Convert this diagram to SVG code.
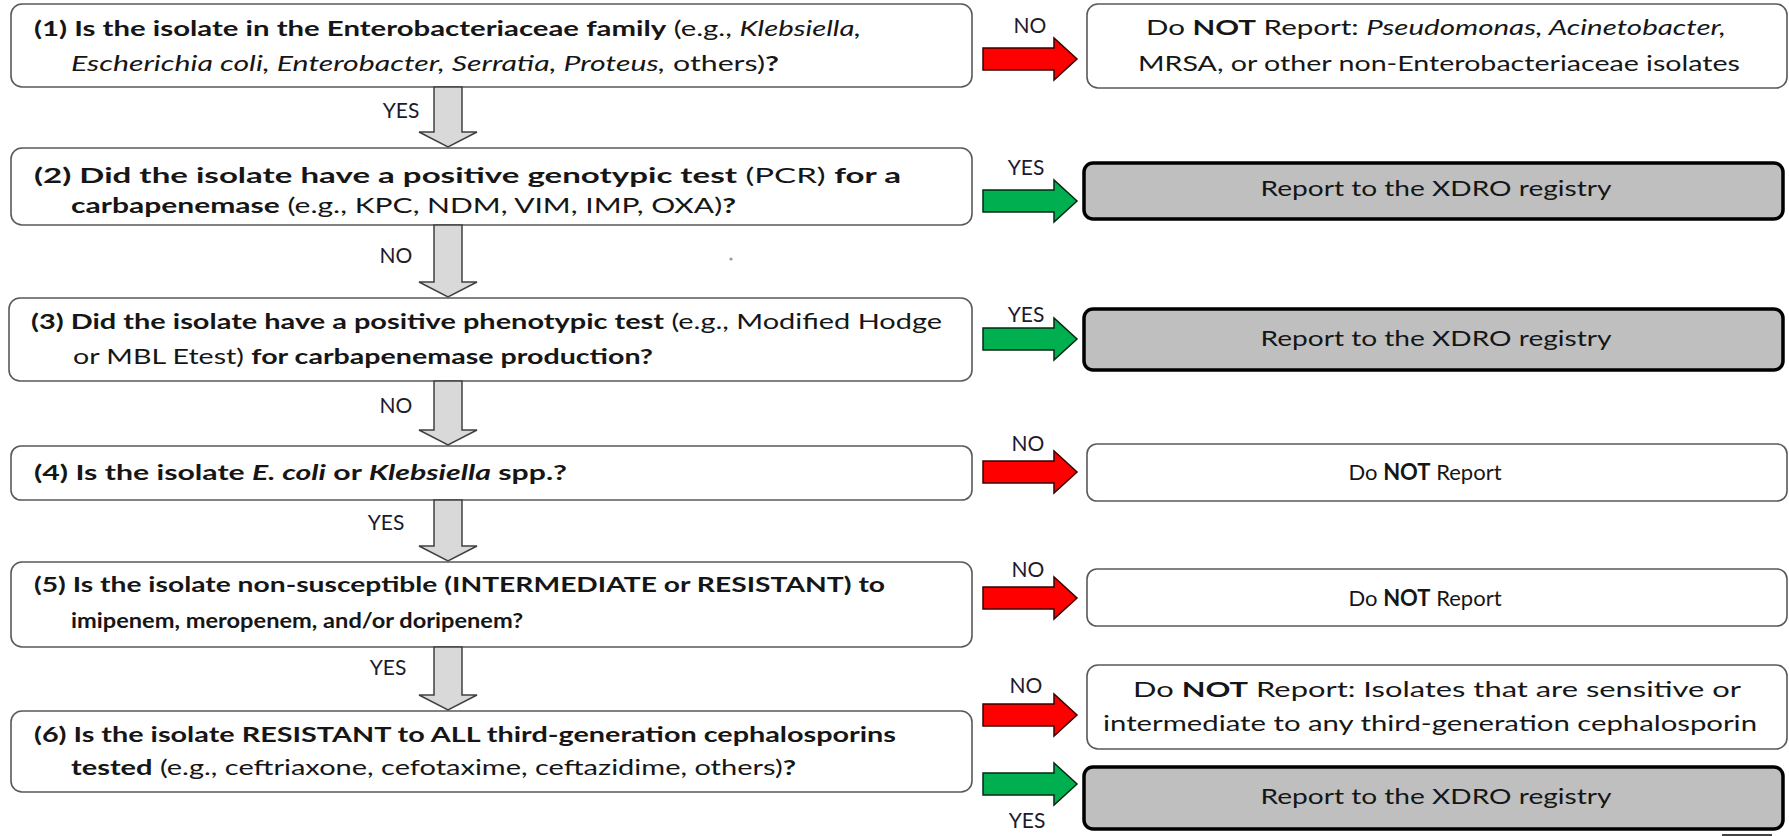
<svg xmlns="http://www.w3.org/2000/svg" width="1789" height="836" viewBox="0 0 1789 836">
<style>
text{font-family:Lato,"Liberation Sans",sans-serif;fill:#161616;font-size:21px}
.b{font-weight:bold}
.i{font-style:italic}
.bi{font-weight:bold;font-style:italic}
.q{fill:#fff;stroke:#595959;stroke-width:1.6}
.g{fill:#bfbfbf;stroke:#000;stroke-width:3.5}
.lab{font-size:21px;fill:#1b1b2e}
.c{text-anchor:middle}
.down{fill:#d9d9d9;stroke:#404040;stroke-width:1.5}
.red{fill:#ff0000;stroke:#3a0000;stroke-width:1.5}
.grn{fill:#00b050;stroke:#002a10;stroke-width:1.5}
</style>

<g id="q1">
<rect class="q" x="11" y="4" width="961" height="83" rx="11"/>
<text x="34" y="36" textLength="827" lengthAdjust="spacingAndGlyphs"><tspan class="b">(1) Is the isolate in the Enterobacteriaceae family</tspan> (e.g., <tspan class="i">Klebsiella,</tspan></text>
<text x="71" y="71" textLength="708" lengthAdjust="spacingAndGlyphs"><tspan class="i">Escherichia coli, Enterobacter, Serratia, Proteus,</tspan> others)<tspan class="b">?</tspan></text>
</g>
<g id="q2">
<rect class="q" x="11" y="148" width="961" height="77" rx="11"/>
<text x="34" y="183" textLength="867" lengthAdjust="spacingAndGlyphs"><tspan class="b">(2) Did the isolate have a positive genotypic test</tspan> (PCR) <tspan class="b">for a</tspan></text>
<text x="71" y="213" textLength="665" lengthAdjust="spacingAndGlyphs"><tspan class="b">carbapenemase</tspan> (e.g., KPC, NDM, VIM, IMP, OXA)<tspan class="b">?</tspan></text>
</g>
<g id="q3">
<rect class="q" x="9" y="298" width="963" height="83" rx="11"/>
<text x="31" y="329" textLength="911" lengthAdjust="spacingAndGlyphs"><tspan class="b">(3) Did the isolate have a positive phenotypic test</tspan> (e.g., Modified Hodge</text>
<text x="73" y="364" textLength="580" lengthAdjust="spacingAndGlyphs">or MBL Etest) <tspan class="b">for carbapenemase production?</tspan></text>
</g>
<g id="q4">
<rect class="q" x="11" y="446" width="961" height="54" rx="10"/>
<text x="34" y="480" textLength="533" lengthAdjust="spacingAndGlyphs" class="b">(4) Is the isolate <tspan class="bi">E. coli</tspan> or <tspan class="bi">Klebsiella</tspan> spp.?</text>
</g>
<g id="q5">
<rect class="q" x="11" y="562" width="961" height="85" rx="11"/>
<text x="34" y="592" textLength="851" lengthAdjust="spacingAndGlyphs" class="b">(5) Is the isolate non-susceptible (INTERMEDIATE or RESISTANT) to</text>
<text x="71" y="628" textLength="452" lengthAdjust="spacingAndGlyphs" class="b">imipenem, meropenem, and/or doripenem?</text>
</g>
<g id="q6">
<rect class="q" x="11" y="711" width="961" height="81" rx="11"/>
<text x="34" y="742" textLength="862" lengthAdjust="spacingAndGlyphs" class="b">(6) Is the isolate RESISTANT to ALL third-generation cephalosporins</text>
<text x="71" y="775" textLength="725" lengthAdjust="spacingAndGlyphs"><tspan class="b">tested</tspan> (e.g., ceftriaxone, cefotaxime, ceftazidime, others)<tspan class="b">?</tspan></text>
</g>

<g id="r1">
<rect class="q" x="1087" y="4" width="700" height="84" rx="11"/>
<text class="c" x="1436" y="35" textLength="580" lengthAdjust="spacingAndGlyphs">Do <tspan class="b">NOT</tspan> Report: <tspan class="i">Pseudomonas, Acinetobacter,</tspan></text>
<text class="c" x="1439" y="71" textLength="602" lengthAdjust="spacingAndGlyphs">MRSA, or other non-Enterobacteriaceae isolates</text>
</g>
<g id="r2">
<rect class="g" x="1084" y="163" width="699" height="56" rx="9"/>
<text class="c" x="1436" y="196" textLength="351" lengthAdjust="spacingAndGlyphs">Report to the XDRO registry</text>
</g>
<g id="r3">
<rect class="g" x="1084" y="309" width="699" height="61" rx="9"/>
<text class="c" x="1436" y="346" textLength="351" lengthAdjust="spacingAndGlyphs">Report to the XDRO registry</text>
</g>
<g id="r4">
<rect class="q" x="1087" y="444" width="700" height="57" rx="10"/>
<text class="c" x="1425" y="480" style="font-size:22px">Do <tspan class="b">NOT</tspan> Report</text>
</g>
<g id="r5">
<rect class="q" x="1087" y="569" width="700" height="57" rx="10"/>
<text class="c" x="1425" y="606" style="font-size:22px">Do <tspan class="b">NOT</tspan> Report</text>
</g>
<g id="r6">
<rect class="q" x="1087" y="665" width="700" height="84" rx="11"/>
<text class="c" x="1437" y="697" textLength="608" lengthAdjust="spacingAndGlyphs">Do <tspan class="b">NOT</tspan> Report: Isolates that are sensitive or</text>
<text class="c" x="1430" y="731" textLength="654" lengthAdjust="spacingAndGlyphs">intermediate to any third-generation cephalosporin</text>
</g>
<g id="r7">
<rect class="g" x="1084" y="767" width="699" height="62" rx="9"/>
<text class="c" x="1436" y="804" textLength="351" lengthAdjust="spacingAndGlyphs">Report to the XDRO registry</text>
</g>

<g id="connectors">
<polygon class="down" points="434,87 462,87 462,132 477,132 448,147 419,132 434,132"/>
<polygon class="down" points="434,225 462,225 462,282 477,282 448,297 419,282 434,282"/>
<polygon class="down" points="434,381 462,381 462,430 477,430 448,445 419,430 434,430"/>
<polygon class="down" points="434,500 462,500 462,546 477,546 448,561 419,546 434,546"/>
<polygon class="down" points="434,647 462,647 462,695 477,695 448,710 419,695 434,695"/>
<text class="lab c" x="401" y="118">YES</text>
<text class="lab c" x="396" y="263">NO</text>
<text class="lab c" x="396" y="413">NO</text>
<text class="lab c" x="386" y="530">YES</text>
<text class="lab c" x="388" y="675">YES</text>

<polygon class="red" points="983,48 1054,48 1054,38 1077,59 1054,80 1054,70 983,70"/>
<polygon class="grn" points="983,190 1054,190 1054,180 1077,201 1054,222 1054,212 983,212"/>
<polygon class="grn" points="983,328 1054,328 1054,318 1077,339 1054,360 1054,350 983,350"/>
<polygon class="red" points="983,461 1054,461 1054,451 1077,472 1054,493 1054,483 983,483"/>
<polygon class="red" points="983,587 1054,587 1054,577 1077,598 1054,619 1054,609 983,609"/>
<polygon class="red" points="983,704 1054,704 1054,694 1077,715 1054,736 1054,726 983,726"/>
<polygon class="grn" points="983,773 1054,773 1054,763 1077,784 1054,805 1054,795 983,795"/>
<text class="lab c" x="1030" y="33">NO</text>
<text class="lab c" x="1026" y="175">YES</text>
<text class="lab c" x="1026" y="322">YES</text>
<text class="lab c" x="1028" y="451">NO</text>
<text class="lab c" x="1028" y="577">NO</text>
<text class="lab c" x="1026" y="693">NO</text>
<text class="lab c" x="1027" y="828">YES</text>
</g>
<circle cx="731" cy="259" r="1.6" fill="#9a9a9a"/>
<line x1="1722" y1="835" x2="1772" y2="835" stroke="#444" stroke-width="2"/>
</svg>
